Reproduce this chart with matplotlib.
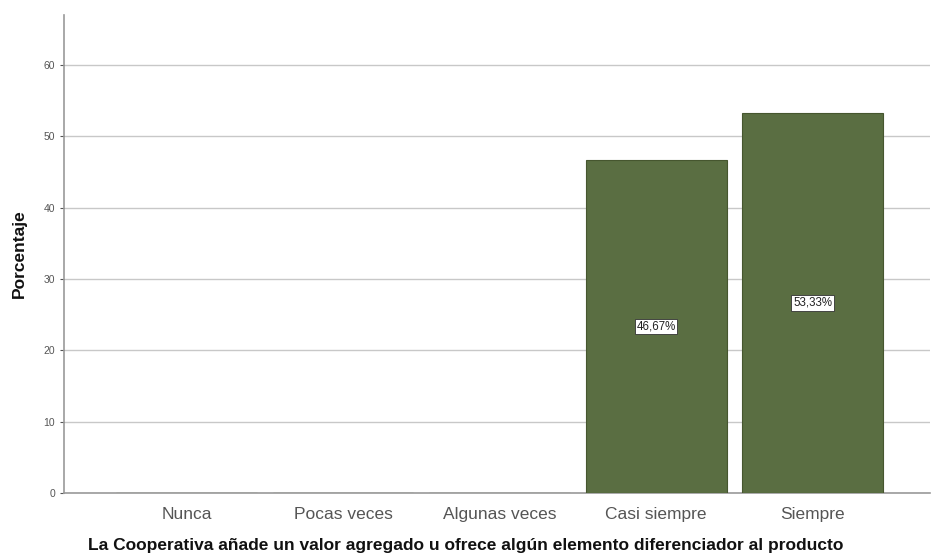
import matplotlib
matplotlib.use("Agg")
import matplotlib.pyplot as plt

categories = ["Nunca", "Pocas veces", "Algunas veces", "Casi siempre", "Siempre"]
percentages = [0.0, 0.0, 0.0, 46.67, 53.33]
y_ticks = [0, 10, 20, 30, 40, 50, 60]
x_title = "La Cooperativa añade un valor agregado u ofrece algún elemento diferenciador al producto"
y_title = "Porcentaje"

plt.rcParams["font.family"] = ["Liberation Sans", "DejaVu Sans"]

fig = plt.figure(figsize=(9.32, 5.58), dpi=100)
ax = fig.add_axes([0.069, 0.1165, 0.929, 0.8565])

bar_color = "#5a6e42"
x = list(range(len(categories)))
bars = ax.bar(x, percentages, width=0.9, color=bar_color, edgecolor="#46562f",
              linewidth=0.8, zorder=3)

for xi, v in zip(x, percentages):
    if v > 0:
        ax.text(xi, v / 2, f"{v:.2f}%".replace(".", ","), ha="center", va="center",
                fontsize=8.3, color="#222222", zorder=4,
                bbox=dict(boxstyle="square,pad=0.15", facecolor="white",
                          edgecolor="#333333", linewidth=0.6))

ax.set_xlim(-0.78, 4.75)
ax.set_ylim(0, 67)
ax.set_yticks(y_ticks)
ax.set_xticks(x)
ax.set_xticklabels(categories, fontsize=12.5, color="#555555")
ax.tick_params(axis="y", labelsize=7.5, colors="#555555", length=3, width=0.8)
ax.tick_params(axis="x", length=0, pad=10)
ax.grid(axis="y", color="#c8c8c8", linewidth=1.0, zorder=0)

for side in ["top", "right"]:
    ax.spines[side].set_visible(False)
for side in ["left", "bottom"]:
    ax.spines[side].set_color("#9a9a9a")
    ax.spines[side].set_linewidth(1.2)

ax.set_ylabel(y_title, fontsize=12.5, fontweight="bold", color="#111111", labelpad=12)
ax.set_xlabel(x_title, fontsize=12.5, fontweight="bold", color="#111111", labelpad=14)
ax.xaxis.set_label_coords(0.464, -0.095)

fig.savefig("out.png", dpi=100, facecolor="white")
